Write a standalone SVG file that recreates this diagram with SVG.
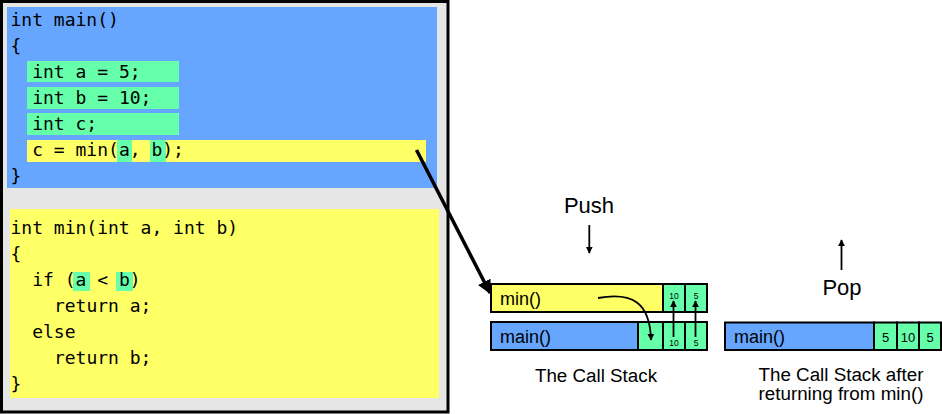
<svg xmlns="http://www.w3.org/2000/svg" width="942" height="414" viewBox="0 0 942 414">
<style>
.code{font-family:"DejaVu Sans Mono",monospace;font-size:18px;fill:#000}
.sans{font-family:"Liberation Sans",Arial,sans-serif;fill:#000}
.blue{fill:#66a6ff}
.green{fill:#66ffaa}
.yellow{fill:#ffff66}
.cell{stroke:#000;stroke-width:2}
.num{font-family:"Liberation Sans",Arial,sans-serif;text-anchor:middle;fill:#000}
</style>
<defs>
<marker id="ah" viewBox="0 0 10 10" refX="9" refY="5" markerWidth="4" markerHeight="4" orient="auto" markerUnits="strokeWidth">
<path d="M0,0 L10,5 L0,10 z" fill="#000"/>
</marker>
<marker id="ahs" viewBox="0 0 10 10" refX="9" refY="5" markerWidth="7" markerHeight="7" orient="auto" markerUnits="userSpaceOnUse">
<path d="M0,0 L10,5 L0,10 z" fill="#000"/>
</marker>
</defs>
<rect width="942" height="414" fill="#fff"/>
<g id="code-panel">
<rect x="1.5" y="1.5" width="446.5" height="410.5" fill="#e6e6e6" stroke="#000" stroke-width="3"/>
</g>
<g id="main-func">
<rect class="blue" x="7" y="7" width="430" height="181"/>
<rect class="green" x="27" y="61" width="152" height="21"/>
<rect class="green" x="27" y="87" width="152" height="22"/>
<rect class="green" x="27" y="113" width="152" height="22"/>
<rect class="yellow" x="27" y="140" width="399" height="22"/>
<rect class="green" x="117" y="140" width="15" height="22"/>
<rect class="green" x="150" y="140" width="16" height="22"/>
<text class="code" x="10.5" y="26">int main()</text>
<text class="code" x="10.5" y="52">{</text>
<text class="code" x="32.2" y="78">int a = 5;</text>
<text class="code" x="32.2" y="104">int b = 10;</text>
<text class="code" x="32.2" y="130">int c;</text>
<text class="code" x="32.2" y="156">c = min(a, b);</text>
<text class="code" x="10.5" y="182">}</text>
</g>
<g id="min-func">
<rect class="yellow" x="10" y="209" width="429" height="189"/>
<rect class="green" x="73" y="272" width="17" height="19"/>
<rect class="green" x="116" y="272" width="17" height="19"/>
<text class="code" x="10.5" y="234">int min(int a, int b)</text>
<text class="code" x="10.5" y="260">{</text>
<text class="code" x="32.2" y="286">if (a &lt; b)</text>
<text class="code" x="53.9" y="312">return a;</text>
<text class="code" x="32.2" y="338">else</text>
<text class="code" x="53.9" y="364">return b;</text>
<text class="code" x="10.5" y="390">}</text>
</g>
<g id="push-label">
<text class="sans" x="589" y="213" font-size="22" text-anchor="middle">Push</text>
</g>
<g id="pop-label">
<text class="sans" x="842" y="295" font-size="22" text-anchor="middle">Pop</text>
</g>
<g id="stack1-min">
<rect class="yellow cell" x="491" y="284" width="172" height="28"/>
<text class="sans" x="500" y="305" font-size="18">min()</text>
<rect class="green cell" x="663" y="284" width="22" height="28"/>
<rect class="green cell" x="685" y="284" width="22" height="28"/>
<text class="num" x="674" y="298.5" font-size="8.5">10</text>
<text class="num" x="696" y="298.5" font-size="8.5">5</text>
</g>
<g id="stack1-main">
<rect class="blue cell" x="491" y="322" width="147" height="28"/>
<text class="sans" x="500" y="343" font-size="18">main()</text>
<rect class="green cell" x="638" y="322" width="25" height="28"/>
<rect class="green cell" x="663" y="322" width="22" height="28"/>
<rect class="green cell" x="685" y="322" width="22" height="28"/>
<text class="num" x="674" y="346" font-size="8.5">10</text>
<text class="num" x="696" y="346" font-size="8.5">5</text>
</g>
<g id="stack2-main">
<rect class="blue cell" x="725" y="322.5" width="149" height="27.5"/>
<text class="sans" x="734" y="343" font-size="18">main()</text>
<rect class="green cell" x="874" y="322.5" width="23" height="27.5"/>
<rect class="green cell" x="897" y="322.5" width="22" height="27.5"/>
<rect class="green cell" x="919" y="322.5" width="22" height="27.5"/>
<text class="num" x="885.5" y="342" font-size="13">5</text>
<text class="num" x="908" y="342" font-size="13">10</text>
<text class="num" x="930" y="342" font-size="13">5</text>
</g>
<g id="captions">
<text class="sans" x="596" y="382" font-size="18.8" text-anchor="middle">The Call Stack</text>
<text class="sans" x="841" y="381" font-size="18.8" text-anchor="middle">The Call Stack after</text>
<text class="sans" x="841" y="400" font-size="18.8" text-anchor="middle">returning from min()</text>
</g>
<g id="connectors" fill="none" stroke="#000">
<line x1="416.5" y1="150" x2="490" y2="293" stroke-width="3.5" marker-end="url(#ah)"/>
<line x1="589.3" y1="225" x2="589.3" y2="253" stroke-width="1.8" marker-end="url(#ahs)"/>
<line x1="841.5" y1="270" x2="841.5" y2="240" stroke-width="1.8" marker-end="url(#ahs)"/>
<path d="M598,298 C632,292 650,302 651,340" stroke-width="1.8" marker-end="url(#ahs)"/>
<line x1="673.5" y1="337" x2="673.5" y2="301" stroke-width="1.8" marker-end="url(#ahs)"/>
<line x1="695.5" y1="337" x2="695.5" y2="301" stroke-width="1.8" marker-end="url(#ahs)"/>
</g>
</svg>
